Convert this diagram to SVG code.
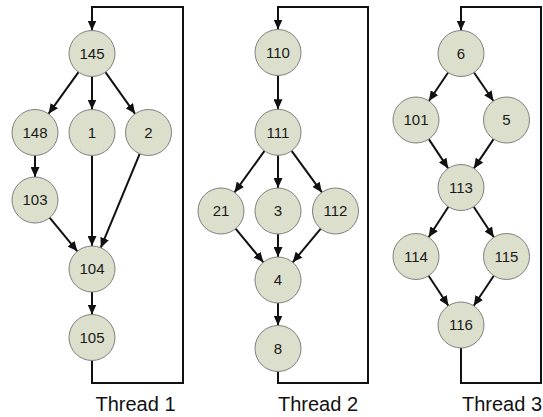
<svg xmlns="http://www.w3.org/2000/svg" width="543" height="417" viewBox="0 0 543 417">
<style>
.n circle{fill:#dcdfcb;stroke:#7f7f7f;stroke-width:1}
.n text{font-family:"Liberation Sans",Arial,sans-serif;font-size:15px;fill:#1a1a1a;text-anchor:middle}
.e{stroke:#111;stroke-width:2;fill:none}
.a{marker-end:url(#ah)}
.lbl{font-family:"Liberation Sans",Arial,sans-serif;font-size:20px;fill:#111;text-anchor:middle}
</style>
<defs>
<marker id="ah" markerUnits="userSpaceOnUse" markerWidth="11" markerHeight="9" refX="10" refY="4.5" orient="auto">
<path d="M0,0 L10,4.5 L0,9 z" fill="#111"/>
</marker>
</defs>
<rect width="543" height="417" fill="#fff"/>
<g id="connectors">
<!-- Thread 1 -->
<path class="e a" d="M78.5,72.2 L48.5,113.8"/>
<path class="e a" d="M92,76.5 L92,109.5"/>
<path class="e a" d="M105.4,72.2 L135.1,113.8"/>
<path class="e a" d="M35,155.5 L35,177"/>
<path class="e a" d="M49.6,217.7 L77.4,251.3"/>
<path class="e a" d="M92,155.5 L92,246"/>
<path class="e a" d="M139.7,153.8 L100.8,247.7"/>
<path class="e a" d="M92,292 L92,314.5"/>
<path class="e a" d="M92,360.5 V383 H183 V7 H92 V30.5"/>
<!-- Thread 2 -->
<path class="e a" d="M278,75.5 L278,109.3"/>
<path class="e a" d="M264.5,150.9 L234.5,192.4"/>
<path class="e a" d="M278,155.3 L278,188"/>
<path class="e a" d="M291.6,150.9 L321.9,192.4"/>
<path class="e a" d="M235.6,228.7 L263.4,262.3"/>
<path class="e a" d="M278,234 L278,257"/>
<path class="e a" d="M320.8,228.7 L292.7,262.3"/>
<path class="e a" d="M278,303 L278,325.5"/>
<path class="e a" d="M278,371.5 V383 H368 V7 H278 V29.5"/>
<!-- Thread 3 -->
<path class="e a" d="M448.1,72.5 L428.9,101"/>
<path class="e a" d="M474,72.5 L493.5,101"/>
<path class="e a" d="M428.8,139.1 L448.2,168.4"/>
<path class="e a" d="M493.6,139.1 L473.9,168.4"/>
<path class="e a" d="M448.4,206.8 L428.6,237.2"/>
<path class="e a" d="M473.7,206.7 L493.8,237.3"/>
<path class="e a" d="M428.6,275.7 L448.4,305.8"/>
<path class="e a" d="M493.8,275.7 L473.7,305.8"/>
<path class="e a" d="M461,348 V383 H541 V7 H461 V30.5"/>
</g>
<g id="n145" class="n"><circle cx="92" cy="53.5" r="23"/><text x="92" y="58.8">145</text></g>
<g id="n148" class="n"><circle cx="35" cy="132.5" r="23"/><text x="35" y="137.8">148</text></g>
<g id="n1" class="n"><circle cx="92" cy="132.5" r="23"/><text x="92" y="137.8">1</text></g>
<g id="n2" class="n"><circle cx="148.5" cy="132.5" r="23"/><text x="148.5" y="137.8">2</text></g>
<g id="n103" class="n"><circle cx="35" cy="200" r="23"/><text x="35" y="205.3">103</text></g>
<g id="n104" class="n"><circle cx="92" cy="269" r="23"/><text x="92" y="274.3">104</text></g>
<g id="n105" class="n"><circle cx="92" cy="337.5" r="23"/><text x="92" y="342.8">105</text></g>
<g id="n110" class="n"><circle cx="278" cy="52.5" r="23"/><text x="278" y="57.8">110</text></g>
<g id="n111" class="n"><circle cx="278" cy="132.3" r="23"/><text x="278" y="137.6">111</text></g>
<g id="n21" class="n"><circle cx="221" cy="211" r="23"/><text x="221" y="216.3">21</text></g>
<g id="n3" class="n"><circle cx="278" cy="211" r="23"/><text x="278" y="216.3">3</text></g>
<g id="n112" class="n"><circle cx="335.5" cy="211" r="23"/><text x="335.5" y="216.3">112</text></g>
<g id="n4" class="n"><circle cx="278" cy="280" r="23"/><text x="278" y="285.3">4</text></g>
<g id="n8" class="n"><circle cx="278" cy="348.5" r="23"/><text x="278" y="353.8">8</text></g>
<g id="n6" class="n"><circle cx="461" cy="53.5" r="23"/><text x="461" y="58.8">6</text></g>
<g id="n101" class="n"><circle cx="416" cy="120" r="23"/><text x="416" y="125.3">101</text></g>
<g id="n5" class="n"><circle cx="506.5" cy="120" r="23"/><text x="506.5" y="125.3">5</text></g>
<g id="n113" class="n"><circle cx="461" cy="187.5" r="23"/><text x="461" y="192.8">113</text></g>
<g id="n114" class="n"><circle cx="416" cy="256.5" r="23"/><text x="416" y="261.8">114</text></g>
<g id="n115" class="n"><circle cx="506.5" cy="256.5" r="23"/><text x="506.5" y="261.8">115</text></g>
<g id="n116" class="n"><circle cx="461" cy="325" r="23"/><text x="461" y="330.3">116</text></g>
<g id="labels">
<text class="lbl" x="135.5" y="411">Thread 1</text>
<text class="lbl" x="318" y="411">Thread 2</text>
<text class="lbl" x="502" y="411">Thread 3</text>
</g>
</svg>
